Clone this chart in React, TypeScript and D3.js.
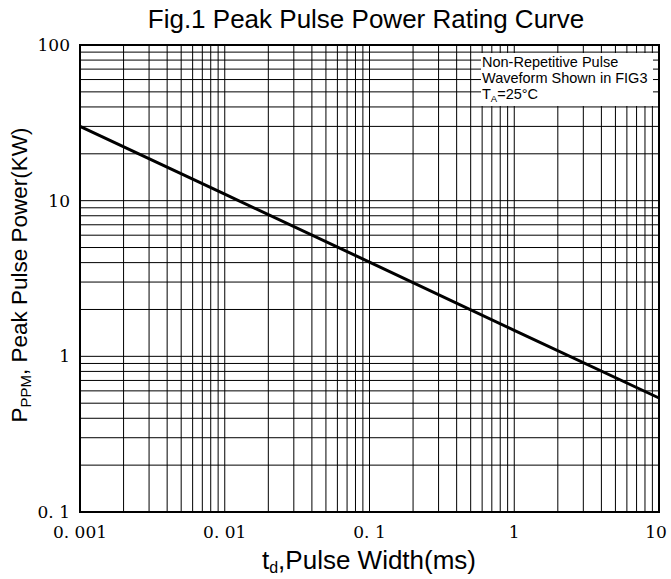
import React from "react";
import * as d3 from "d3";

// pulse width (ms) vs peak pulse power (kW)
const pulseWidth = [0.001, 0.01, 0.1, 1, 10];
const peakPower = [30, 11.0, 4.03, 1.47, 0.54];

const xTicks = [0.001, 0.01, 0.1, 1, 10];
const xTickLabels = ["0. 001", "0. 01", "0. 1", "1", "10"];
const yTicks = [0.1, 1, 10, 100];
const yTickLabels = ["0. 1", "1", "10", "100"];

const legendLines = ["Non-Repetitive Pulse", "Waveform Shown in FIG3"];

export default function App() {
  const width = 671, height = 579;
  const m = { left: 80, right: 12, top: 45, bottom: 67 };

  const x = d3.scaleLog().domain([0.001, 10]).range([m.left, width - m.right]);
  const y = d3.scaleLog().domain([0.1, 100]).range([height - m.bottom, m.top]);

  const gridX: number[] = [];
  const gridY: number[] = [];
  for (let e = -3; e < 1; e++) for (let k = 1; k < 10; k++) gridX.push(k * Math.pow(10, e));
  for (let e = -1; e < 2; e++) for (let k = 1; k < 10; k++) gridY.push(k * Math.pow(10, e));

  const line = d3.line<number>()
    .x((_, i) => x(pulseWidth[i]))
    .y(d => y(d));

  const [x0, x1] = x.range();
  const [y0, y1] = y.range();
  const serif = "'DejaVu Serif', 'Liberation Serif', serif";
  const sans = "'Liberation Sans', Arial, sans-serif";

  return (
    <svg width={width} height={height} style={{ position: "absolute", left: 0, top: 0 }}>
      <rect width={width} height={height} fill="#fff" />
      <text x={366} y={28} textAnchor="middle" fontFamily={sans} fontSize={26}>
        Fig.1 Peak Pulse Power Rating Curve
      </text>

      {gridX.map(v => (
        <line key={"gx" + v} x1={x(v)} x2={x(v)} y1={y1} y2={y0} stroke="#000" strokeWidth={1} />
      ))}
      {gridY.map(v => (
        <line key={"gy" + v} x1={x0} x2={x1} y1={y(v)} y2={y(v)} stroke="#000" strokeWidth={1} />
      ))}

      <rect x={481} y={53} width={172} height={53} fill="#fff" />
      {legendLines.map((t, i) => (
        <text key={t} x={482} y={67 + i * 16} fontFamily={sans} fontSize={14.5}>{t}</text>
      ))}
      <text x={482} y={99} fontFamily={sans} fontSize={14.5}>
        T<tspan fontSize={9.5} dy={3}>A</tspan><tspan dy={-3}>=25°C</tspan>
      </text>

      <rect x={x0} y={y1} width={x1 - x0} height={y0 - y1} fill="none" stroke="#000" strokeWidth={2} />

      <path d={line(peakPower) ?? ""} fill="none" stroke="#000" strokeWidth={3} />

      {yTicks.map((v, i) => (
        <text key={"yt" + v} x={70} y={y(v) + 6} textAnchor="end" fontFamily={serif} fontSize={17}>
          {yTickLabels[i]}
        </text>
      ))}
      {xTicks.map((v, i) => (
        <text key={"xt" + v} x={i === xTicks.length - 1 ? x(v) - 3 : x(v)} y={538} textAnchor="middle" fontFamily={serif} fontSize={17}>
          {xTickLabels[i]}
        </text>
      ))}

      <text x={369} y={569} textAnchor="middle" fontFamily={sans} fontSize={26}>
        t<tspan fontSize={16} dy={4}>d</tspan><tspan dy={-4}>,Pulse Width(ms)</tspan>
      </text>
      <text transform="translate(27,275) rotate(-90)" textAnchor="middle" fontFamily={sans} fontSize={22.5}>
        P<tspan fontSize={15} dy={4}>PPM</tspan><tspan dy={-4}>, Peak Pulse Power(KW)</tspan>
      </text>
    </svg>
  );
}
